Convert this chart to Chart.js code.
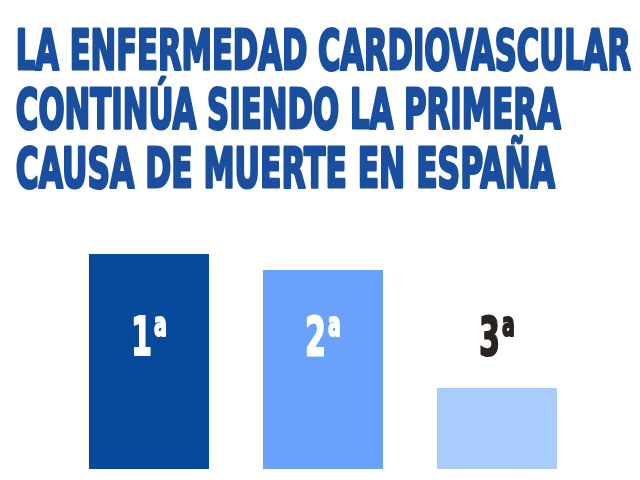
<!DOCTYPE html>
<html>
<head>
<meta charset="utf-8">
<style>
  html, body { margin: 0; padding: 0; background: #fff; }
  #wrap { width: 640px; height: 480px; position: relative; }
</style>
<script src="https://cdn.jsdelivr.net/npm/chart.js@4.4.1/dist/chart.umd.min.js"></script>
</head>
<body>
<div id="wrap"><canvas id="chart" width="640" height="480"></canvas></div>
<script>
// data (y scale 0..100, bars only show rank)
const titleLines = [
    'LA ENFERMEDAD CARDIOVASCULAR',
    'CONTINÚA SIENDO LA PRIMERA',
    'CAUSA DE MUERTE EN ESPAÑA'
];
const categories = ['1ª', '2ª', '3ª'];
const values = [90.7, 84.0, 34.2];
const labelLevel = 47.7; // where the rank labels sit, in y units

const barColors = ['#074a9b', '#6aa1fb', '#a8cdfc'];
const labelColors = ['#ffffff', '#ffffff', '#2a2320'];
const titleColor = '#1a4f9f';
const titleRight = [633, 563, 557]; // right edge of each title line
const FONT = '"DejaVu Sans"';

// condensed bold text: draw normally, squeeze horizontally
function drawSqueezed(ctx, text, x, y, size, sx, color, stroke) {
    ctx.save();
    ctx.translate(x, y);
    ctx.scale(sx, 1);
    ctx.font = `bold ${size}px ${FONT}`;
    ctx.textBaseline = 'alphabetic';
    ctx.textAlign = 'left';
    ctx.fillStyle = color;
    ctx.fillText(text, 0, 0);
    if (stroke) {
        ctx.strokeStyle = color;
        ctx.lineWidth = stroke;
        ctx.lineJoin = 'round';
        ctx.strokeText(text, 0, 0);
    }
    ctx.restore();
}

function measure(ctx, text, size) {
    ctx.save();
    ctx.font = `bold ${size}px ${FONT}`;
    const w = ctx.measureText(text).width;
    ctx.restore();
    return w;
}

const titlePlugin = {
    id: 'titleLines',
    afterDraw(chart) {
        const ctx = chart.ctx;
        const size = 54.5;
        const stroke = 3;
        const left = 15;
        titleLines.forEach((line, i) => {
            const sx = (titleRight[i] - left - stroke) / measure(ctx, line, size);
            drawSqueezed(ctx, line, left + stroke * sx / 2, 68.5 + i * 59, size, sx, titleColor, stroke);
        });
    }
};

const rankPlugin = {
    id: 'rankLabels',
    afterDatasetsDraw(chart) {
        const ctx = chart.ctx;
        const meta = chart.getDatasetMeta(0);
        const y = chart.scales.y.getPixelForValue(labelLevel);
        const numSize = 54, supSize = 34, sx = 0.56, stroke = 2;
        meta.data.forEach((bar, i) => {
            const num = categories[i].replace('ª', '');
            const numW = measure(ctx, num, numSize) * sx;
            const supW = measure(ctx, 'a', supSize) * sx;
            const gap = 2;
            const x0 = bar.x - (numW + gap + supW) / 2;
            drawSqueezed(ctx, num, x0, y - 1, numSize, sx, labelColors[i], stroke);
            drawSqueezed(ctx, 'a', x0 + numW + gap, y - 20, supSize, sx, labelColors[i], stroke);
        });
    }
};

new Chart(document.getElementById('chart'), {
    type: 'bar',
    data: {
        labels: categories,
        datasets: [{
            data: values,
            backgroundColor: barColors,
            borderWidth: 0,
            barPercentage: 0.69,
            categoryPercentage: 1
        }]
    },
    options: {
        responsive: false,
        animation: false,
        layout: { padding: { top: 232, left: 62, right: 56, bottom: 11 } },
        plugins: {
            legend: { display: false },
            tooltip: { enabled: false },
            title: { display: false }
        },
        scales: {
            x: { display: false },
            y: { display: false, min: 0, max: 100 }
        }
    },
    plugins: [titlePlugin, rankPlugin]
});
</script>
</body>
</html>
